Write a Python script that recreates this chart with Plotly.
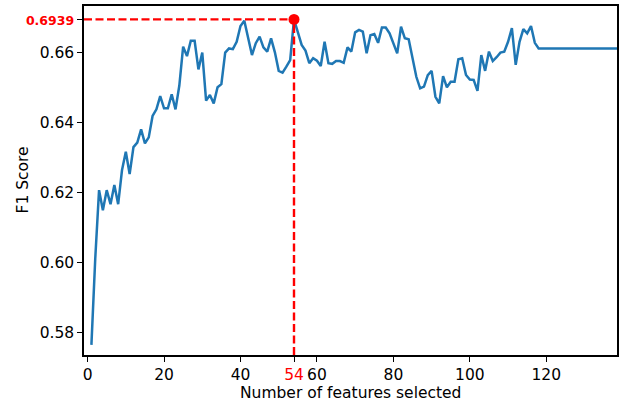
import plotly.graph_objects as go

n_features = list(range(1, 140))
f1_scores = [
    0.5764, 0.6010, 0.6206, 0.6149, 0.6206, 0.6166, 0.6221, 0.6166, 0.6263, 0.6316,
    0.6252, 0.6329, 0.6342, 0.6380, 0.6340, 0.6357, 0.6418, 0.6437, 0.6475, 0.6440,
    0.6440, 0.6480, 0.6437, 0.6505, 0.6616, 0.6589, 0.6633, 0.6633, 0.6551, 0.6599,
    0.6462, 0.6478, 0.6454, 0.6500, 0.6509, 0.6599, 0.6611, 0.6609, 0.6630, 0.6675,
    0.6690, 0.6643, 0.6592, 0.6626, 0.6645, 0.6614, 0.6602, 0.6640, 0.6600, 0.6547,
    0.6542, 0.6559, 0.6578, 0.6694, 0.6654, 0.6621, 0.6605, 0.6569, 0.6583, 0.6576,
    0.6561, 0.6630, 0.6569, 0.6567, 0.6575, 0.6575, 0.6570, 0.6614, 0.6602, 0.6657,
    0.6664, 0.6659, 0.6597, 0.6649, 0.6652, 0.6627, 0.6671, 0.6671, 0.6654, 0.6626,
    0.6597, 0.6673, 0.6640, 0.6637, 0.6578, 0.6530, 0.6497, 0.6502, 0.6535, 0.6547,
    0.6473, 0.6454, 0.6532, 0.6500, 0.6516, 0.6516, 0.6580, 0.6583, 0.6535, 0.6522,
    0.6521, 0.6490, 0.6592, 0.6547, 0.6602, 0.6575, 0.6586, 0.6599, 0.6602, 0.6630,
    0.6669, 0.6564, 0.6630, 0.6666, 0.6654, 0.6675, 0.6627, 0.6611, 0.6611, 0.6611,
    0.6611, 0.6611, 0.6611, 0.6611, 0.6611, 0.6611, 0.6611, 0.6611, 0.6611, 0.6611,
    0.6611, 0.6611, 0.6611, 0.6611, 0.6611, 0.6611, 0.6611, 0.6611, 0.6611,
]

x_ticks = [0, 20, 40, 60, 80, 100, 120]
y_ticks = [0.58, 0.60, 0.62, 0.64, 0.66]
y_tick_labels = ["0.58", "0.60", "0.62", "0.64", "0.66"]
peak_label = "0.6939"

x_range = [-0.94, 138.5]
y_range = [0.57351, 0.67323]

best_i = max(range(len(f1_scores)), key=lambda i: f1_scores[i])
best_x = n_features[best_i]
best_y = f1_scores[best_i]

FONT = "DejaVu Sans"
BLUE = "#1f77b4"
RED = "#ff0000"

fig = go.Figure()
fig.add_trace(go.Scatter(x=n_features, y=f1_scores, mode="lines",
                         line=dict(color=BLUE, width=2.5), showlegend=False))
fig.add_trace(go.Scatter(x=[x_range[0], best_x], y=[best_y, best_y], mode="lines",
                         line=dict(color=RED, width=2.4, dash="8px,3.5px"), showlegend=False))
fig.add_trace(go.Scatter(x=[best_x, best_x], y=[y_range[0], best_y], mode="lines",
                         line=dict(color=RED, width=2.4, dash="8px,3.5px"), showlegend=False))
fig.add_trace(go.Scatter(x=[best_x], y=[best_y], mode="markers",
                         marker=dict(color=RED, size=11), showlegend=False))

xt_vals = x_ticks + [best_x]
xt_text = [str(v) for v in x_ticks] + [f"<span style='color:{RED}'>{best_x}</span>"]
yt_vals = y_ticks + [best_y]
yt_text = y_tick_labels + [f"<span style='color:{RED};font-size:12.5px'><b>{peak_label}</b></span>"]

axis_common = dict(showline=True, linecolor="black", linewidth=1.5, mirror=True,
                   ticks="outside", ticklen=5, tickwidth=1.2, tickcolor="black",
                   showgrid=False, zeroline=False, automargin=False,
                   tickfont=dict(family=FONT, size=15.5, color="black"))

fig.update_xaxes(range=x_range, tickmode="array", tickvals=xt_vals, ticktext=xt_text,
                 **axis_common)
fig.update_yaxes(range=y_range, tickmode="array", tickvals=yt_vals, ticktext=yt_text,
                 **axis_common)

fig.add_annotation(text="Number of features selected", xref="paper", yref="paper",
                   x=0.5, y=0, yshift=-38, xanchor="center", yanchor="middle",
                   showarrow=False, font=dict(family=FONT, size=15.5, color="black"))
fig.add_annotation(text="F1 Score", xref="paper", yref="paper",
                   x=0, y=0.5, xshift=-62, textangle=-90, xanchor="center", yanchor="middle",
                   showarrow=False, font=dict(family=FONT, size=15.5, color="black"))

fig.update_layout(width=619, height=403,
                  margin=dict(l=84, r=2, t=6, b=48),
                  paper_bgcolor="white", plot_bgcolor="white",
                  font=dict(family=FONT))

fig.write_html("out.html", config={"displayModeBar": False},
               post_script="document.body.style.margin='0';document.body.style.overflow='hidden';")
